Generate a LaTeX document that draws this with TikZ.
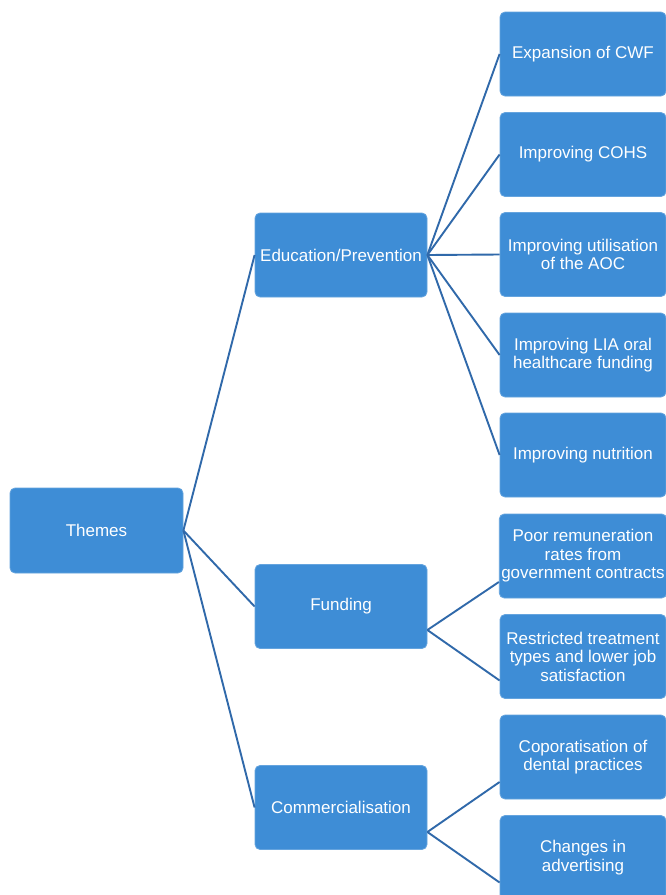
\documentclass[tikz,border=0pt]{standalone}
\usepackage{fontspec}
\setmainfont{Liberation Sans}
\definecolor{boxblue}{RGB}{62,141,214}
\definecolor{lineblue}{RGB}{48,105,170}
\begin{document}
\begin{tikzpicture}[x=1pt,y=-1pt,
  box/.style={fill=boxblue, draw=boxblue!80!white, line width=0.8pt, rounded corners=5pt,
    text=white, align=center, inner sep=2pt,
    font=\fontsize{17}{18.5}\selectfont},
  leftbox/.style={box, minimum width=173pt, minimum height=85pt},
  midbox/.style={box, minimum width=172pt, minimum height=84pt},
  rightbox/.style={box, minimum width=166pt, minimum height=84pt},
  conn/.style={draw=lineblue, line width=1.9pt}]
\clip (0,0) rectangle (666,895);
\fill[white] (0,0) rectangle (666,895);
% nodes
\node[leftbox] (themes) at (96.5,530.5) {Themes};
\node[midbox] (edu) at (341,255) {Education/Prevention};
\node[midbox] (fund) at (341,606.5) {Funding};
\node[midbox] (comm) at (341,807.5) {Commercialisation};
\node[rightbox] (cwf) at (583,54) {Expansion of CWF};
\node[rightbox] (cohs) at (583,154.5) {Improving COHS};
\node[rightbox] (aoc) at (583,254.5) {Improving utilisation\\of the AOC};
\node[rightbox] (lia) at (583,355) {Improving LIA oral\\healthcare funding};
\node[rightbox] (nutr) at (583,455) {Improving nutrition};
\node[rightbox] (poor) at (583,556) {Poor remuneration\\rates from\\government contracts};
\node[rightbox] (restr) at (583,656.5) {Restricted treatment\\types and lower job\\satisfaction};
\node[rightbox] (corp) at (583,757) {Coporatisation of\\dental practices};
\node[rightbox] (adv) at (583,857.5) {Changes in\\advertising};
% connectors
\draw[conn] (themes.east) -- (edu.west);
\draw[conn] (themes.east) -- (fund.west);
\draw[conn] (themes.east) -- (comm.west);
\foreach \n in {cwf,cohs,aoc,lia,nutr}{
  \draw[conn] (edu.east) -- (\n.west);
}
\draw[conn] ([yshift=-23.5pt]fund.east) -- ([yshift=-26pt]poor.west);
\draw[conn] ([yshift=-23.5pt]fund.east) -- ([yshift=-24pt]restr.west);
\draw[conn] ([yshift=-24.5pt]comm.east) -- ([yshift=-25pt]corp.west);
\draw[conn] ([yshift=-24.5pt]comm.east) -- ([yshift=-25pt]adv.west);
\end{tikzpicture}
\end{document}
